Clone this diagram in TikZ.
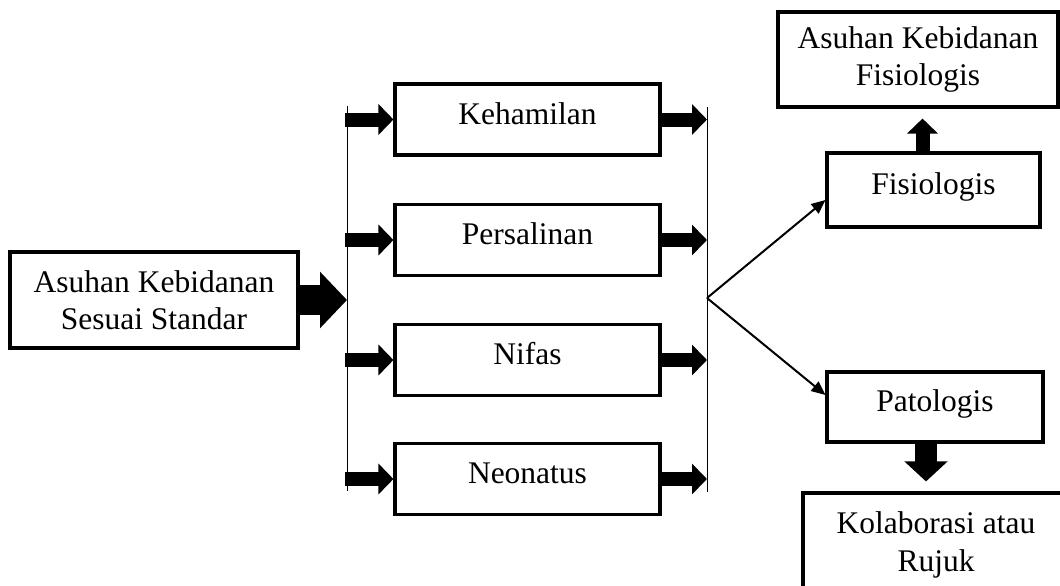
\documentclass[tikz,border=0pt]{standalone}
\usepackage{fontspec}
\setmainfont{Liberation Serif}
\usetikzlibrary{arrows.meta}
\begin{document}
\begin{tikzpicture}[x=1pt,y=-1pt,
  box/.style={draw,line width=3.1pt,inner sep=0pt,align=center,font=\fontsize{31.5}{37}\selectfont},
  onebox/.style={box,text height=22pt,text depth=13pt},
  txt/.style={inner sep=0pt,align=center,font=\fontsize{31.5}{38.5}\selectfont},
  smallblk/.style={line width=14pt,-{Triangle[length=15pt,width=30pt]}},
  bigblk/.style={line width=30pt,-{Triangle[length=27pt,width=55pt]}},
  downblk/.style={line width=22pt,-{Triangle[length=20pt,width=42pt]}},
  thinarrow/.style={line width=2pt,-{Triangle[length=14pt,width=12pt]}},
  bar/.style={line width=0.8pt}]
\useasboundingbox (0,0) rectangle (1060,586);

% left box
\node[box,minimum width=288pt,minimum height=96pt] (ahs) at (154,300) {Asuhan Kebidanan\\Sesuai Standar};

% middle boxes
\node[onebox,minimum width=265pt,minimum height=71pt] (keh) at (527.5,119.5) {Kehamilan};
\node[onebox,minimum width=265pt,minimum height=71pt] (per) at (527.5,240) {Persalinan};
\node[onebox,minimum width=265pt,minimum height=71pt] (nif) at (527.5,360) {Nifas};
\node[onebox,minimum width=265pt,minimum height=71pt] (neo) at (527.5,479) {Neonatus};

% right boxes
\node[onebox,minimum width=213pt,minimum height=74pt] (fis) at (933.5,190) {Fisiologis};
\node[onebox,minimum width=216pt,minimum height=70pt] (pat) at (935,407) {Patologis};
\node[box,minimum width=280pt,minimum height=95pt] (asf) at (918,59.5) {Asuhan Kebidanan\\Fisiologis};
\node[box,minimum width=266pt,minimum height=104pt] (kol) at (936,545) {};
\node[txt,anchor=north] (koltxt) at (936,511) {Kolaborasi atau\\Rujuk};

% vertical bars
\coordinate (lt) at (347,106);
\coordinate (lb) at (347,491);
\coordinate (rt) at (707,107);
\coordinate (rb) at (707,492);
\draw[bar] (lt) -- (lb);
\draw[bar] (rt) -- (rb);

\coordinate (vL) at (345,300);
\coordinate (vR) at (707,300);
\coordinate (bigtip) at (347,300);
\coordinate (fk) at (707,298);

% big arrow
\draw[bigblk] (ahs.east) -- (bigtip);

% small arrows
\foreach \n in {keh,per,nif,neo}{
  \draw[smallblk] (vL |- \n.west) -- (\n.west);
  \draw[smallblk] ([xshift=-4pt]\n.east) -- (vR |- \n.east);
}

% fork
\draw[thinarrow] (fk) -- ([yshift=-10pt]fis.west);
\draw[thinarrow] (fk) -- ([yshift=12pt]pat.west);

% up / down arrows
\draw[smallblk,shorten >=10pt] ([xshift=-11pt]fis.north) -- ([xshift=-11pt]fis.north |- asf.south);
\draw[downblk,shorten >=10pt] ([xshift=-9pt]pat.south) -- ([xshift=-9pt]pat.south |- kol.north);
\end{tikzpicture}
\end{document}
